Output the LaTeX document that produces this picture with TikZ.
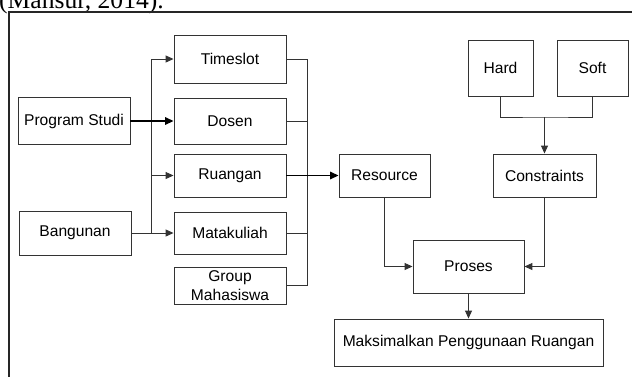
\documentclass[tikz,border=0pt]{standalone}
\usepackage{fontspec}
\setmainfont{Liberation Sans}
\newfontfamily\capfont{Liberation Serif}
\usetikzlibrary{arrows.meta}
\begin{document}
\begin{tikzpicture}[x=1pt,y=-1pt,
  box/.style={draw=black!80, line width=0.9pt, inner sep=0pt, align=center,
    font=\fontsize{15.6}{18.5}\selectfont},
  conn/.style={draw=black!80, line width=1pt},
  arr/.style={conn, -{Triangle[length=8pt,width=7pt]}},
  bigarr/.style={draw=black, line width=1.6pt, -{Triangle[length=8.5pt,width=7.5pt]}},
  frame/.style={draw=black!85, line width=1.3pt}]
\path[use as bounding box] (0,0) rectangle (632,376);
\clip (0,0) rectangle (632,376);

\node[anchor=base west, inner sep=0pt, font=\capfont\fontsize{25.6}{30}\selectfont] (cap) at (-1,8.5) {(Mansur, 2014).};
\draw[frame] (9,380) -- (9,12) -- (640,12);

% left column
\node[box, minimum width=112pt, minimum height=47pt] (ps) at (74,121) {Program Studi};
\node[box, minimum width=112pt, minimum height=44pt] (bang) at (75,233) {Bangunan};

% middle column
\node[box, minimum width=112pt, minimum height=48pt] (time) at (230,59) {Timeslot};
\node[box, minimum width=112pt, minimum height=46pt] (dos) at (230,121) {Dosen};
\node[box, minimum width=112pt, minimum height=43pt] (ruang) at (230,175.5) {Ruangan};
\node[box, minimum width=112pt, minimum height=42pt] (mk) at (230,233) {Matakuliah};
\node[box, minimum width=112pt, minimum height=37pt] (grp) at (230,285.5) {Group\\Mahasiswa};

% right part
\node[box, minimum width=91pt, minimum height=43pt] (res) at (384.5,175.5) {Resource};
\node[box, minimum width=103pt, minimum height=43pt] (cons) at (544.5,175.5) {Constraints};
\node[box, minimum width=65pt, minimum height=56pt] (hard) at (500.5,68) {Hard};
\node[box, minimum width=71pt, minimum height=56pt] (soft) at (592.5,68) {Soft};
\node[box, minimum width=111pt, minimum height=53pt] (pros) at (468.5,266.5) {Proses};
\node[box, minimum width=269pt, minimum height=47pt] (maks) at (468.5,342.5) {Maksimalkan Penggunaan Ruangan};

% branch on left
\coordinate (b1) at (151,59);
\coordinate (b2) at (151,233);
\draw[conn] (b1) -- (b2);
\draw[arr] (b1) -- (time.west);
\draw[arr] (ruang.west -| b1) -- (ruang.west);
\draw[arr] (bang.east) -- (mk.west);
\draw[bigarr] (ps.east) -- (dos.west);

% collector on right
\coordinate (c1) at (307,59);
\coordinate (c2) at (307,285.5);
\draw[conn] (c1) -- (c2);
\draw[conn] (time.east) -- (c1);
\draw[conn] (dos.east) -- (dos.east -| c1);
\draw[conn] (mk.east) -- (mk.east -| c1);
\draw[conn] (grp.east) -- (c2);
\draw[bigarr] (ruang.east) -- (res.west);

% constraints
\coordinate (j) at (544.5,117);
\draw[conn] (hard.south) |- (j) -| (soft.south);
\draw[arr] (j) -- (cons.north);

% to proses
\draw[arr] (res.south) |- (pros.west);
\draw[arr] (cons.south) |- (pros.east);
\draw[arr] (pros.south) -- (maks.north);
\end{tikzpicture}
\end{document}
